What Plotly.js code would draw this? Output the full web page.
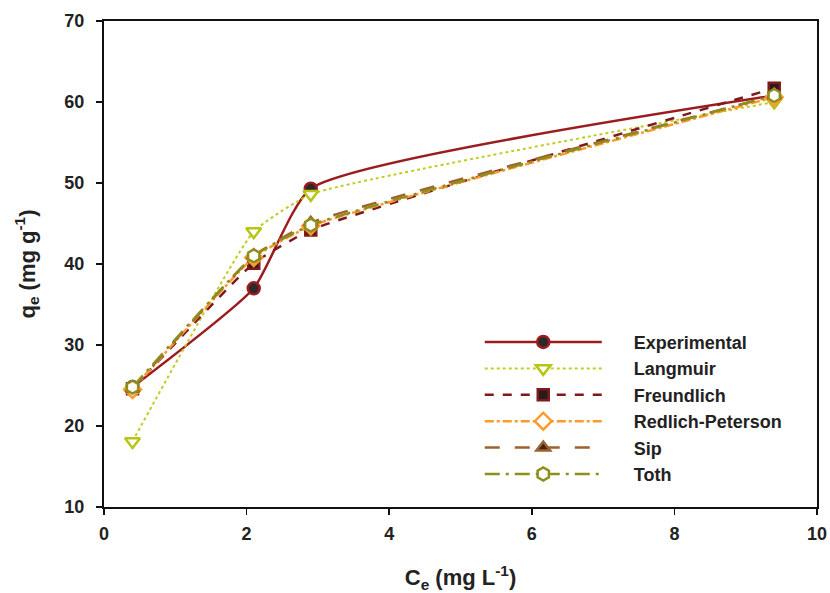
<!DOCTYPE html>
<html>
<head>
<meta charset="utf-8">
<script src="https://cdn.plot.ly/plotly-3.0.1.min.js"></script>
<style>html,body{margin:0;padding:0;background:#fff;}#chart{width:830px;height:593px;}</style>
</head>
<body>
<div id="chart"></div>
<script>
const ce = [0.4, 2.1, 2.9, 9.4];
const experimental = [24.8, 37.0, 49.3, 60.8];
const langmuir = [18.1, 44.0, 48.6, 60.0];
const freundlich = [24.6, 40.1, 44.2, 61.7];
const redlichPeterson = [24.5, 40.8, 44.7, 60.6];
const sip = [24.6, 41.0, 45.1, 60.8];
const toth = [24.8, 41.0, 44.8, 60.8];
const seriesNames = ["Experimental", "Langmuir", "Freundlich", "Redlich-Peterson", "Sip", "Toth"];

const pad = "\u2003\u2002";
const styles = [
  {y: experimental, line: {color: "#9b1c1f", width: 2.5, dash: "solid", shape: "spline", smoothing: 0.5},
   marker: {symbol: "circle", size: 12, color: "#2a2a2a", line: {color: "#9b1c1f", width: 2.5}}},
  {y: langmuir, line: {color: "#c2cc22", width: 2, dash: "dot", shape: "spline", smoothing: 0.4},
   marker: {symbol: "triangle-down", size: 13, color: "#ffffff", line: {color: "#b8c416", width: 2.5}}},
  {y: freundlich, line: {color: "#7e1a1d", width: 2.5, dash: "dash", shape: "spline", smoothing: 0.4},
   marker: {symbol: "square", size: 11, color: "#2a1a1a", line: {color: "#7e1a1d", width: 2.5}}},
  {y: redlichPeterson, line: {color: "#ff9a2e", width: 2.5, dash: "dashdot", shape: "spline", smoothing: 0.4},
   marker: {symbol: "diamond", size: 13, color: "#ffffff", line: {color: "#ff9a2e", width: 2.5}}},
  {y: sip, line: {color: "#a0622d", width: 2.5, dash: "longdash", shape: "spline", smoothing: 0.4},
   marker: {symbol: "triangle-up", size: 12, color: "#3a2a1a", line: {color: "#a0622d", width: 2.5}}},
  {y: toth, line: {color: "#8e8e1c", width: 2.5, dash: "longdashdot", shape: "spline", smoothing: 0.4},
   marker: {symbol: "hexagon", size: 13, color: "#ffffff", line: {color: "#8e8e1c", width: 2.5}}}
];

const traces = styles.map((s, i) => ({
  type: "scatter", mode: "lines+markers", x: ce, y: s.y, name: pad + seriesNames[i],
  legendgroup: "g" + i, line: s.line, marker: s.marker
}));

const fontFam = "Liberation Sans, Arial, sans-serif";
const layout = {
  width: 830, height: 593,
  margin: {l: 104, r: 13, t: 21, b: 86},
  paper_bgcolor: "#ffffff", plot_bgcolor: "#ffffff",
  font: {family: fontFam, color: "#222222", size: 18, weight: "bold"},
  showlegend: true,
  legend: {x: 0.527, y: 0.377, xanchor: "left", yanchor: "top", bgcolor: "rgba(0,0,0,0)",
    font: {family: fontFam, size: 18, color: "#222222", weight: "bold"},
    itemwidth: 117, traceorder: "grouped", tracegroupgap: 0},
  xaxis: {range: [0, 10], dtick: 2, showgrid: false, zeroline: false,
    showline: true, linecolor: "#111111", linewidth: 2, mirror: true,
    ticks: "outside", ticklen: 6, tickwidth: 1.5, tickcolor: "#111111", ticklabelstandoff: 3,
    tickfont: {family: fontFam, size: 18, weight: "bold", color: "#222222"},
    title: {text: "C<sub>e</sub> (mg L<sup>-1</sup>)", font: {family: fontFam, size: 22, weight: "bold", color: "#222222"}, standoff: 38}},
  yaxis: {range: [10, 70], dtick: 10, showgrid: false, zeroline: false,
    showline: true, linecolor: "#111111", linewidth: 2, mirror: true,
    ticks: "outside", ticklen: 6, tickwidth: 1.5, tickcolor: "#111111", ticklabelstandoff: 8,
    tickfont: {family: fontFam, size: 18, weight: "bold", color: "#222222"},
    title: {text: "q<sub>e</sub> (mg g<sup>-1</sup>)", font: {family: fontFam, size: 22, weight: "bold", color: "#222222"}, standoff: 23}}
};

Plotly.newPlot("chart", traces, layout, {displayModeBar: false, staticPlot: true});
</script>
</body>
</html>
